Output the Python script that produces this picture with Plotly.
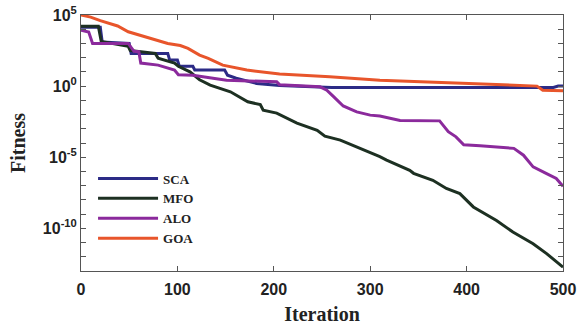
import plotly.graph_objects as go

# Convergence curves: best fitness per iteration for four optimisers
sca_iter = [0, 20, 22, 50, 52, 90, 92, 100, 102, 116, 118, 149, 152, 161, 182, 206, 260, 490, 495, 500]
sca_fit = [1.4e4, 1.4e4, 1.26e3, 1.0e3, 2.0e2, 2.0e2, 6.8e1, 6.8e1, 2.5e1, 2.5e1, 1.35e1, 1.35e1,
           5.9e0, 3.6e0, 1.55e0, 1.12e0, 8.1e-1, 8.1e-1, 1.0e0, 1.0e0]

mfo_iter = [0, 18, 21, 49, 51, 77, 80, 97, 101, 113, 123, 134, 155, 168, 173, 186, 189, 203, 224,
            245, 253, 269, 286, 310, 317, 341, 345, 365, 379, 393, 407, 431, 448, 469, 483, 500]
mfo_fit = [1.6e4, 1.6e4, 1.4e3, 6.3e2, 3.2e2, 2.0e2, 9.3e1, 4.2e1, 2.5e1, 1.0e1, 2.8e0, 1.17e0,
           4.0e-1, 1.35e-1, 7.9e-2, 5.0e-2, 2.0e-2, 1.26e-2, 2.5e-3, 7.9e-4, 3.0e-4, 1.6e-4,
           5.4e-5, 1.1e-5, 6.3e-6, 1.2e-6, 7.4e-7, 2.4e-7, 6.3e-8, 2.75e-8, 3.2e-9, 3.6e-10,
           5.5e-11, 8.3e-12, 1.66e-12, 1.86e-13]

alo_iter = [0, 8, 12, 49, 55, 60, 62, 80, 97, 101, 116, 123, 151, 203, 206, 248, 255, 262, 272,
            286, 300, 310, 324, 331, 372, 375, 381, 389, 397, 414, 449, 459, 469, 483, 493, 500]
alo_fit = [8.7e3, 6.3e3, 1.0e3, 1.0e3, 2.8e2, 2.6e2, 4.2e1, 3.0e1, 1.35e1, 6.3e0, 5.9e0, 5.0e0,
           2.6e0, 2.0e0, 1.26e0, 8.9e-1, 5.2e-1, 1.8e-1, 4.0e-2, 1.55e-2, 9.1e-3, 7.8e-3, 5.0e-3,
           3.8e-3, 3.6e-3, 2.0e-3, 6.3e-4, 2.7e-4, 7.6e-5, 6.3e-5, 4.2e-5, 1.38e-5, 2.1e-6,
           7.1e-7, 3.2e-7, 8.9e-8]

goa_iter = [0, 10, 20, 38, 49, 60, 76, 90, 103, 111, 123, 132, 147, 172, 206, 258, 310, 380, 440,
            473, 479, 500]
goa_fit = [1.0e5, 7.1e4, 4.0e4, 1.7e4, 6.6e3, 4.0e3, 1.74e3, 1.0e3, 7.1e2, 4.5e2, 1.5e2, 8.9e1,
           3.0e1, 1.35e1, 7.1e0, 4.6e0, 2.6e0, 1.66e0, 1.26e0, 1.0e0, 5.2e-1, 4.7e-1]

series = [
    ("SCA", sca_iter, sca_fit, "#2c2b86"),
    ("MFO", mfo_iter, mfo_fit, "#1d3022"),
    ("ALO", alo_iter, alo_fit, "#8b2a9c"),
    ("GOA", goa_iter, goa_fit, "#e8552b"),
]

# labelled y ticks every fifth decade, unlabelled minor ticks at every decade
y_major_exponents = [-10, -5, 0, 5]
y_major_labels = ["10<sup>-10</sup>", "10<sup>-5</sup>", "10<sup>0</sup>", "10<sup>5</sup>"]
y_minor_exponents = list(range(-13, 6))
x_tick_values = [0, 100, 200, 300, 400, 500]

fig = go.Figure()
for name, xs, ys, color in series:
    fig.add_trace(go.Scatter(x=xs, y=ys, name=name, mode="lines",
                             line=dict(color=color, width=3)))

axis_common = dict(
    showline=True, linecolor="#555555", linewidth=1, mirror="ticks",
    ticks="inside", ticklen=5, tickcolor="#555555", tickwidth=1,
    showgrid=False, zeroline=False, automargin=False,
)

fig.update_xaxes(
    range=[0, 500], tickvals=x_tick_values, ticklabelstandoff=4,
    tickfont=dict(family="Liberation Sans", size=16, color="#222222", weight="bold"),
    title=dict(text="Iteration", standoff=9,
               font=dict(family="Liberation Serif", size=20, color="#222222", weight="bold")),
    **axis_common,
)
fig.update_yaxes(
    type="log", range=[-13, 5],
    tickvals=[10.0 ** e for e in y_major_exponents], ticktext=y_major_labels,
    minor=dict(tickvals=[10.0 ** e for e in y_minor_exponents], ticks="inside",
               ticklen=5, tickcolor="#555555", tickwidth=1, showgrid=False),
    tickfont=dict(family="Liberation Sans", size=16, color="#222222", weight="bold"),
    title=dict(text="Fitness", standoff=11,
               font=dict(family="Liberation Serif", size=20, color="#222222", weight="bold")),
    **axis_common,
)

fig.update_layout(
    width=578, height=327,
    margin=dict(l=81, r=15, t=15, b=56),
    paper_bgcolor="white", plot_bgcolor="white",
    showlegend=True,
    legend=dict(x=0.025, y=0.42, xanchor="left", yanchor="top",
                bgcolor="rgba(0,0,0,0)", borderwidth=0, itemwidth=60,
                font=dict(family="Liberation Serif", size=13, color="#222222", weight="bold"),
                tracegroupgap=0),
)

fig.write_html("out.html")
